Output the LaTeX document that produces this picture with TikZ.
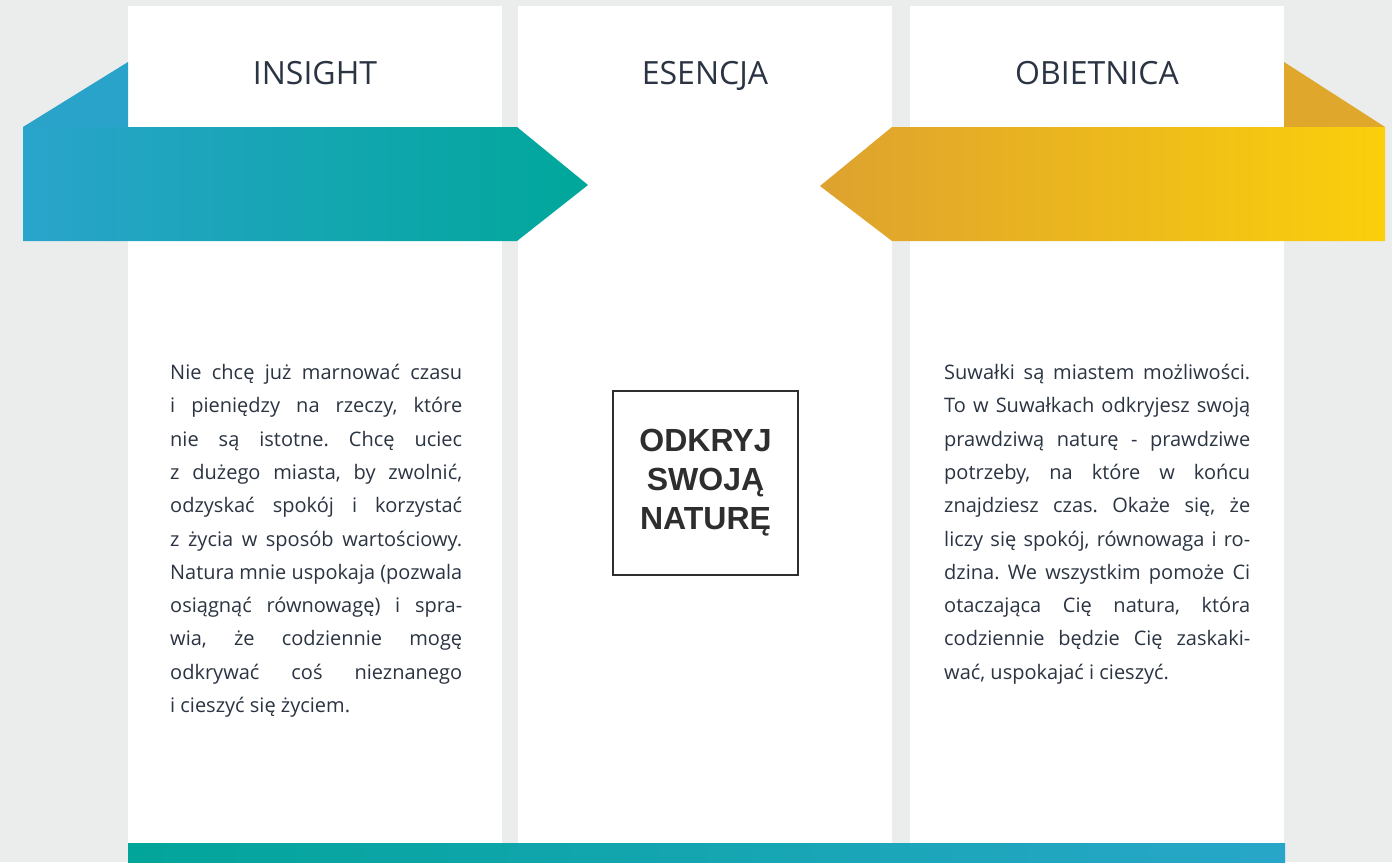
\documentclass[tikz,border=0pt]{standalone}
\usepackage{fontspec}
\usepackage{graphicx}
\setmainfont{Open Sans}
\newfontfamily\boxfont{Liberation Sans}
\definecolor{bgc}{HTML}{EBECEC}
\definecolor{blueL}{HTML}{2AA4CB}
\definecolor{tealR}{HTML}{00A79A}
\definecolor{foldB}{HTML}{2AA3CA}
\definecolor{yelL}{HTML}{DDA22F}
\definecolor{yelR}{HTML}{FBCF0B}
\definecolor{foldY}{HTML}{DFA82C}
\definecolor{barL}{HTML}{02A59A}
\definecolor{barR}{HTML}{28A6C9}
\definecolor{txt}{HTML}{2B3442}
\definecolor{boxc}{HTML}{2E2E2E}
\newlength\colw
\newsavebox\linebox
\newcommand\jl[1]{\sbox\linebox{#1}\ifdim\wd\linebox>\colw
  \hbox{\resizebox{\colw}{\ht\linebox}{\usebox\linebox}}\else\hbox to\colw{#1}\fi}
\tikzset{
  column/.style={fill=white, draw=none},
  title/.style={text=txt, font=\fontsize{32}{34}\selectfont, inner sep=0pt, anchor=base},
  bodytext/.style={text=txt, font=\fontsize{20}{33.3}\selectfont\frenchspacing, inner sep=0pt, anchor=north west},
  essence/.style={draw=boxc, line width=2.5pt, minimum width=185pt, minimum height=184pt, inner sep=0pt,
     text=boxc, align=center, font=\boxfont\bfseries\fontsize{32}{39}\selectfont}
}
\begin{document}
\begin{tikzpicture}[x=1pt,y=-1pt]
\fill[bgc] (0,0) rectangle (1392,862);
\useasboundingbox (0,0) rectangle (1392,862);
% columns
\fill[column] (128,6) rectangle (502,862);
\fill[column] (518,6) rectangle (892,862);
\fill[column] (910,6) rectangle (1284,862);
% bottom bar
\shade[left color=barL, right color=barR] (128,843) rectangle (1285,862);
% blue ribbon
\fill[foldB] (23,127) -- (128,62) -- (128,127) -- cycle;
\shade[left color=blueL, right color=tealR] (23,127) -- (517,127) -- (588,185) -- (517,241) -- (23,241) -- cycle;
% yellow ribbon
\fill[foldY] (1284,62) -- (1385,127) -- (1284,127) -- cycle;
\shade[left color=yelL, right color=yelR] (1385,127) -- (892,127) -- (820,186) -- (892,241) -- (1385,241) -- cycle;
% titles
\node[title] (insight) at (315,84) {INSIGHT};
\node[title] (esencja) at (705,84) {ESENCJA};
\node[title] (obietnica) at (1097,84) {OBIETNICA};
% central box
\node[essence] (haslo) at (705.5,483) {ODKRYJ\\SWOJĄ\\NATURĘ};
% body texts
\node[bodytext] (insighttext) at (170,364) {\vbox{\baselineskip=33.3pt\setlength\colw{292pt}%
\jl{Nie chcę już marnować czasu}
\jl{i pieniędzy na rzeczy, które}
\jl{nie są istotne. Chcę uciec}
\jl{z dużego miasta, by zwolnić,}
\jl{odzyskać spokój i korzystać}
\jl{z życia w sposób wartościowy.}
\jl{Natura mnie uspokaja (pozwala}
\jl{osiągnąć równowagę) i spra-}
\jl{wia, że codziennie mogę}
\jl{odkrywać coś nieznanego}
\hbox{i cieszyć się życiem.}}};
\node[bodytext] (obietnicatext) at (944,364) {\vbox{\baselineskip=33.3pt\setlength\colw{306pt}%
\jl{Suwałki są miastem możliwości.}
\jl{To w Suwałkach odkryjesz swoją}
\jl{prawdziwą naturę - prawdziwe}
\jl{potrzeby, na które w końcu}
\jl{znajdziesz czas. Okaże się, że}
\jl{liczy się spokój, równowaga i ro-}
\jl{dzina. We wszystkim pomoże Ci}
\jl{otaczająca Cię natura, która}
\jl{codziennie będzie Cię zaskaki-}
\hbox{wać, uspokajać i cieszyć.}}};
\end{tikzpicture}
\end{document}
